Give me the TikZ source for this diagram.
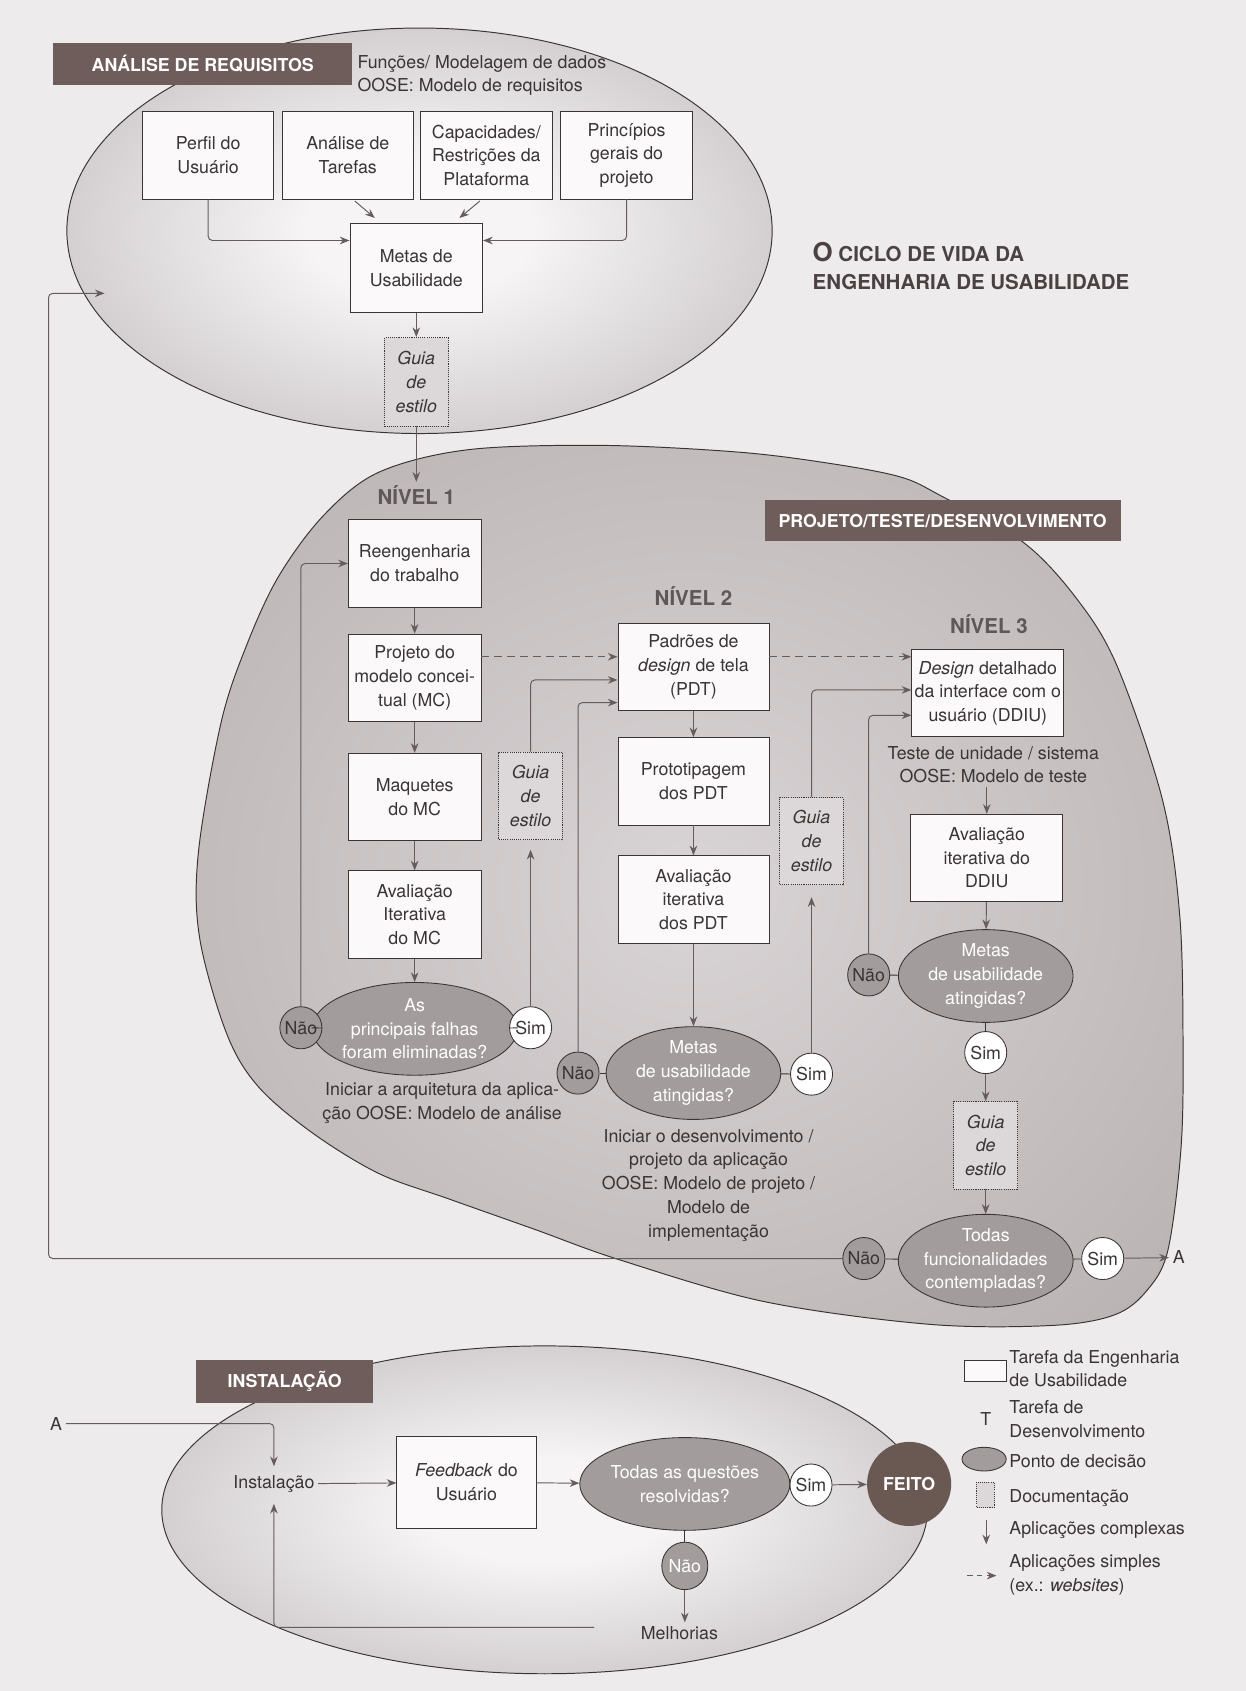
\documentclass[tikz,border=0pt]{standalone}
\usepackage{fontspec}
\setmainfont{TeX Gyre Heros}
\usetikzlibrary{arrows.meta,shapes.geometric,positioning}

\definecolor{paper}{HTML}{EEEBEC}
\definecolor{bannerc}{HTML}{6E5D5A}
\definecolor{ink}{HTML}{3A3434}
\definecolor{arrowc}{HTML}{675C5C}
\definecolor{decfill}{HTML}{A39C9D}
\definecolor{boxfill}{HTML}{FBF9FA}
\definecolor{docfill}{HTML}{DCD7D8}
\definecolor{glowin}{HTML}{F6F4F5}
\definecolor{glowout}{HTML}{A29B9C}
\definecolor{blobin}{HTML}{D9D4D5}
\definecolor{blobout}{HTML}{AAA3A4}
\definecolor{nivelc}{HTML}{5F5758}
\definecolor{titlec}{HTML}{4A4142}
\definecolor{feitoc}{HTML}{6A5853}

\pgfdeclareradialshading{ellglow}{\pgfpointorigin}{color(0bp)=(glowin); color(8bp)=(glowin); color(50bp)=(glowout)}
\pgfdeclareradialshading{blobglow}{\pgfpointorigin}{color(0bp)=(blobin); color(50bp)=(blobout)}

\tikzset{
  every node/.style={font=\fontsize{16.5}{22}\selectfont, text=ink},
  task/.style={draw=ink, fill=boxfill, line width=0.8pt, align=center,
    minimum width=123pt, minimum height=81pt, inner sep=1pt},
  doc/.style={draw=ink, dash pattern=on 1pt off 1pt, fill=docfill, line width=0.9pt,
    align=center, minimum width=59pt, minimum height=81pt, inner sep=1pt,
    font=\fontsize{16.5}{22}\selectfont\itshape},
  decision/.style={ellipse, draw=ink, fill=decfill, line width=0.8pt, align=center,
    minimum width=162pt, minimum height=86pt, inner sep=0pt, text=white},
  nao/.style={circle, draw=ink, fill=decfill, line width=0.8pt, minimum size=39pt, inner sep=0pt},
  sim/.style={circle, draw=ink, fill=white, line width=0.8pt, minimum size=39pt, inner sep=0pt},
  feito/.style={circle, fill=feitoc, minimum size=78pt, inner sep=0pt, text=white,
    font=\fontsize{16.5}{16.5}\selectfont\bfseries},
  phasebanner/.style={fill=bannerc, text=white, inner sep=0pt,
    font=\fontsize{16.5}{16.5}\selectfont\bfseries},
  level/.style={font=\fontsize{19}{19}\selectfont\bfseries, text=nivelc},
  note/.style={align=center},
  arr/.style={-{Stealth[length=9pt,width=7pt]}, draw=arrowc, line width=0.9pt, rounded corners=4pt},
  dasharr/.style={arr, dash pattern=on 7pt off 5pt},
  link/.style={draw=ink, line width=0.8pt},
}

\begin{document}
\begin{tikzpicture}[x=1pt,y=-1pt]
\useasboundingbox (0,0) rectangle (1155,1568);
\fill[paper] (0,0) rectangle (1155,1568);

% Phase areas
\shadedraw[shading=ellglow, draw=ink, line width=0.9pt] (389,214) ellipse [x radius=327pt, y radius=188pt];
\shadedraw[shading=blobglow, draw=ink, line width=0.9pt] plot[smooth cycle, tension=0.55] coordinates {
  (258,535) (300,478) (351,438) (434,417) (558,413) (682,419) (765,429) (834,442)
  (873,460) (949,503) (999,556) (1036,618) (1078,742) (1094,850) (1097,973)
  (1095,1066) (1083,1159) (1064,1196) (1034,1219) (976,1229) (862,1228) (709,1207)
  (574,1168) (496,1140) (417,1112) (351,1088) (289,1050) (239,1007) (210,958)
  (185,869) (184,790) (205,670) (228,600)};
\shadedraw[shading=ellglow, draw=ink, line width=0.9pt] (505,1400) ellipse [x radius=355pt, y radius=152pt];

% Title
\node[anchor=west, align=left, text=titlec, font=\fontsize{19}{26}\selectfont\bfseries] (titulo) at (750,247)
  {{\fontsize{24}{26}\selectfont O} CICLO DE VIDA DA\\ENGENHARIA DE USABILIDADE};

% Analise de requisitos
\node[phasebanner, minimum width=277pt, minimum height=39pt] (banreq) at (188,59.5) {ANÁLISE DE REQUISITOS};
\node[anchor=west, align=left] (oosereq) at (328,70) {Funções/ Modelagem de dados\\OOSE: Modelo de requisitos};

\node[task, minimum width=122pt] (perfil) at (193,144) {Perfil do\\Usuário};
\node[task, minimum width=122pt] (tarefas) at (322.5,144) {Análise de\\Tarefas};
\node[task, minimum width=122pt] (plataf) at (451,144) {Capacidades/\\Restrições da\\Plataforma};
\node[task] (princ) at (581,144) {Princípios\\gerais do\\projeto};
\node[task, minimum height=82pt] (metas) at (386,248.5) {Metas de\\Usabilidade};
\node[doc, minimum height=82pt] (guia0) at (386,354) {Guia\\de\\estilo};

\draw[arr] (perfil.south) |- ([yshift=25.5pt]metas.west);
\draw[arr] (princ.south) |- ([yshift=25.5pt]metas.east);
\draw[arr] ([xshift=6.5pt,yshift=-1.5pt]tarefas.south) -- ([xshift=-38.5pt,yshift=5pt]metas.north);
\draw[arr] ([xshift=-6pt,yshift=-1.5pt]plataf.south) -- ([xshift=40pt,yshift=5pt]metas.north);
\draw[arr] (metas) -- (guia0);

% Projeto / teste / desenvolvimento
\node[phasebanner, minimum width=330pt, minimum height=38pt] (banproj) at (874,483) {PROJETO/TESTE/DESENVOLVIMENTO};

% Nivel 1
\node[level] (nivel1) at (386,459) {NÍVEL 1};
\node[task] (reeng) at (384.5,522.5) {Reengenharia\\do trabalho};
\node[task] (projmc) at (384.5,628.5) {Projeto do\\modelo concei-\\tual (MC)};
\node[task] (maquete) at (384.5,739) {Maquetes\\do MC};
\node[task] (avmc) at (384.5,848) {Avaliação\\Iterativa\\do MC};
\node[decision, minimum width=158pt] (falhas) at (384.5,954) {As\\principais falhas\\foram eliminadas?};
\node[nao] (nao1) at (279,953) {Não};
\node[sim] (sim1) at (492,953) {Sim};
\node[doc] (guia1) at (492,738) {Guia\\de\\estilo};
\node[note] (arqapp) at (410,1023) {Iniciar a arquitetura da aplica-\\ção OOSE: Modelo de análise};

% Nivel 2
\node[level] (nivel2) at (643,553) {NÍVEL 2};
\node[task, minimum width=140pt] (pdt) at (643,618.5) {Padrões de\\\textit{design} de tela\\(PDT)};
\node[task, minimum width=140pt] (proto) at (643,724.5) {Prototipagem\\dos PDT};
\node[task, minimum width=140pt] (avpdt) at (643,834) {Avaliação\\iterativa\\dos PDT};
\node[decision] (metas2) at (643,995) {Metas\\de usabilidade\\atingidas?};
\node[nao] (nao2) at (536,995) {Não};
\node[sim] (sim2) at (752.5,996) {Sim};
\node[doc] (guia2) at (752.5,780) {Guia\\de\\estilo};
\node[note] (iniapp) at (657,1099) {Iniciar o desenvolvimento /\\projeto da aplicação\\OOSE: Modelo de projeto /\\Modelo de\\implementação};

% Nivel 3
\node[level] (nivel3) at (917,579) {NÍVEL 3};
\node[task, minimum width=141pt] (ddiu) at (916,642.75) {\textit{Design} detalhado\\da interface com o\\usuário (DDIU)};
\node[note] (teste) at (921,709) {Teste de unidade / sistema\\OOSE: Modelo de teste};
\node[task, minimum width=141pt] (avddiu) at (915,795.5) {Avaliação\\iterativa do\\DDIU};
\node[decision] (metas3) at (914,905) {Metas\\de usabilidade\\atingidas?};
\node[nao] (nao3) at (805.5,904) {Não};
\node[sim] (sim3) at (914,976) {Sim};
\node[doc] (guia3) at (914,1062) {Guia\\de\\estilo};
\node[decision] (todas) at (914,1169) {Todas\\funcionalidades\\contempladas?};
\node[nao] (nao4) at (801,1167) {Não};
\node[sim] (sim4) at (1022.5,1167) {Sim};
\node (a1) at (1093,1166) {A};
\coordinate (back) at (97,272);

% Nivel 1 connectors
\draw[arr] (guia0) -- (nivel1);
\draw[arr] (reeng) -- (projmc);
\draw[arr] (projmc) -- (maquete);
\draw[arr] (maquete) -- (avmc);
\draw[arr] (avmc) -- (falhas);
\draw[link] (nao1) -- (falhas);
\draw[link] (falhas) -- (sim1);
\draw[arr] (nao1) |- (reeng.west);
\draw[arr, shorten >=9pt] (sim1) -- (guia1);
\draw[arr] (guia1) |- ([yshift=-12pt]pdt.west);
\draw[dasharr] ([yshift=19.5pt]projmc.east) -- ([yshift=19.5pt]projmc.east -| pdt.west);

% Nivel 2 connectors
\draw[arr] (pdt) -- (proto);
\draw[arr] (proto) -- (avpdt);
\draw[arr] (avpdt) -- (metas2);
\draw[link] (nao2) -- (metas2);
\draw[link] (metas2) -- (sim2);
\draw[arr] (nao2) |- ([yshift=-33pt]pdt.west);
\draw[arr, shorten >=11pt] (sim2) -- (guia2);
\draw[arr] (guia2) |- ([yshift=3pt]ddiu.west);
\draw[dasharr] ([yshift=9.5pt]pdt.east) -- ([yshift=9.5pt]pdt.east -| ddiu.west);

% Nivel 3 connectors
\draw[arr] (teste.south -| avddiu.north) -- (avddiu);
\draw[arr] (avddiu) -- (metas3);
\draw[link] (nao3) -- (metas3);
\draw[arr] (nao3) |- ([yshift=-20.5pt]ddiu.west);
\draw[link] (metas3) -- (sim3);
\draw[arr] (sim3) -- (guia3);
\draw[arr] (guia3) -- (todas);
\draw[link] (nao4) -- (todas);
\draw[link] (todas) -- (sim4);
\draw[arr] (sim4) -- (a1);
\draw[arr] (nao4) -- (45,1167) |- (back);

% Instalacao
\node[phasebanner, minimum width=164pt, minimum height=40pt] (baninst) at (264,1281) {INSTALAÇÃO};
\node (a2) at (52,1320) {A};
\node (instal) at (254,1376) {Instalação};
\node[task, minimum width=129pt, minimum height=85pt] (feedback) at (432.5,1374.5) {\textit{Feedback} do\\Usuário};
\node[decision, minimum width=166pt] (questoes) at (635,1376) {Todas as questões\\resolvidas?};
\node[sim] (sim5) at (752,1377) {Sim};
\node[feito] (feito) at (843,1376) {FEITO};
\node[nao, ellipse, minimum width=40pt, minimum height=44pt, text=white] (nao5) at (635,1452) {Não};
\node (melhor) at (630,1514) {Melhorias};
\coordinate (mback) at (551,1509);

\draw[arr, shorten >=5pt] (a2) -| (instal);
\draw[arr] (instal) -- (feedback);
\draw[arr] (feedback) -- (questoes);
\draw[link] (questoes) -- (sim5);
\draw[arr] (sim5) -- (feito);
\draw[link] (questoes) -- (nao5);
\draw[arr] (nao5) -- (nao5 |- melhor.north);
\draw[arr, shorten >=7pt] (mback) -| (instal);

% Legend
\node[draw=ink, fill=boxfill, line width=0.8pt, minimum width=39pt, minimum height=19pt, inner sep=0pt] (legtask) at (913.5,1271) {};
\node[anchor=west, align=left] (legtasktxt) at (932.5,1269) {Tarefa da Engenharia\\de Usabilidade};
\node (legT) at (914,1316) {T};
\node[anchor=west, align=left] (legdevtxt) at (932.5,1316) {Tarefa de\\Desenvolvimento};
\node[ellipse, draw=ink, fill=decfill, line width=0.8pt, minimum width=41pt, minimum height=22pt, inner sep=0pt] (legdec) at (912.5,1353) {};
\node[anchor=west] (legdectxt) at (932.5,1355) {Ponto de decisão};
\node[draw=ink, dash pattern=on 1pt off 1pt, fill=docfill, minimum width=16pt, minimum height=24pt, inner sep=0pt] (legdoc) at (913.5,1386) {};
\node[anchor=west] (legdoctxt) at (932.5,1389.5) {Documentação};
\coordinate (legc1) at (914.5,1409);
\coordinate (legc2) at (914.5,1432);
\draw[arr] (legc1) -- (legc2);
\node[anchor=west] (legcomptxt) at (932.5,1419) {Aplicações complexas};
\coordinate (legs1) at (897,1461);
\coordinate (legs2) at (924,1461);
\draw[arr, dash pattern=on 5pt off 4pt] (legs1) -- (legs2);
\node[anchor=west, align=left] (legsimtxt) at (932.5,1460) {Aplicações simples\\(ex.: \textit{websites})};

\end{tikzpicture}
\end{document}
